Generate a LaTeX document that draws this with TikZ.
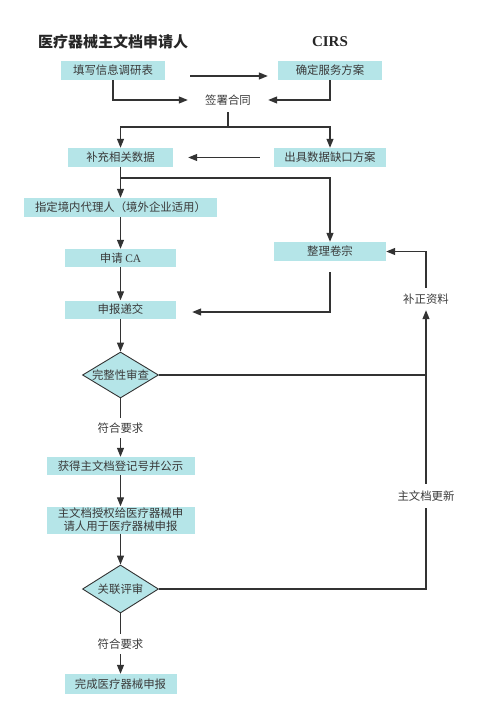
\documentclass[tikz,border=0pt]{standalone}
\usepackage{fontspec}
\setmainfont{Noto Sans CJK SC}
\newfontfamily\serifcjk{Liberation Serif}
\usetikzlibrary{arrows.meta,shapes.geometric}
\definecolor{boxfill}{HTML}{B5E5E8}
\definecolor{ink}{HTML}{333333}
\definecolor{txt}{HTML}{3A3A3A}
\tikzset{
  procbox/.style={fill=boxfill, draw=none, text=txt, font=\fontsize{11.4}{13}\selectfont, inner sep=0pt, align=center},
  decide/.style={diamond, aspect=1.65, fill=boxfill, draw=ink, line width=0.9pt, text=txt, font=\fontsize{11.4}{13}\selectfont, inner sep=0pt, minimum width=76pt, minimum height=46pt},
  plainlab/.style={text=txt, font=\fontsize{11.4}{13}\selectfont, inner sep=0pt},
  link/.style={draw=ink, line width=1.2pt},
  arr/.style={link, -{Triangle[length=9pt,width=7pt]}},
}
\begin{document}
\begin{tikzpicture}[x=1pt,y=-1pt]
\useasboundingbox (0,0) rectangle (500,719);
\fill[white] (0,0) rectangle (500,719);

\node[text=black!85, font=\bfseries\fontsize{15}{17}\selectfont, inner sep=0pt] (title) at (113,42) {医疗器械主文档申请人};
\node[text=black!85, font=\serifcjk\bfseries\fontsize{15}{17}\selectfont, inner sep=0pt] (cirs) at (330,42) {CIRS};

\node[procbox, minimum width=104pt, minimum height=19pt] (b1) at (113,70.5) {填写信息调研表};
\node[procbox, minimum width=104pt, minimum height=19pt] (b2) at (330,70.5) {确定服务方案};
\node[plainlab, minimum width=80pt, minimum height=24pt] (sign) at (228,100) {签署合同};
\node[procbox, minimum width=105pt, minimum height=19pt] (b3) at (120.5,157.5) {补充相关数据};
\node[procbox, minimum width=112pt, minimum height=19pt] (b4) at (330,157.5) {出具数据缺口方案};
\node[procbox, minimum width=193pt, minimum height=19pt] (b5) at (120.5,207.5) {指定境内代理人（境外企业适用）};
\node[procbox, minimum width=111pt, minimum height=18pt] (b6) at (120.5,258) {申请 {\serifcjk CA}};
\node[procbox, minimum width=111pt, minimum height=18pt] (b7) at (120.5,309.5) {申报递交};
\node[procbox, minimum width=112pt, minimum height=19pt] (b8) at (330,251.5) {整理卷宗};
\node[decide] (d1) at (120.5,375) {完整性审查};
\node[plainlab, minimum height=20pt] (l1) at (120.5,428) {符合要求};
\node[procbox, minimum width=148pt, minimum height=18pt] (b9) at (120.5,466) {获得主文档登记号并公示};
\node[procbox, minimum width=148pt, minimum height=27pt] (b10) at (120.5,520) {主文档授权给医疗器械申\\请人用于医疗器械申报};
\node[decide, minimum height=48pt] (d2) at (120.5,589) {关联评审};
\node[plainlab, minimum height=20pt] (l2) at (120.5,644) {符合要求};
\node[procbox, minimum width=112pt, minimum height=20pt] (b11) at (120.5,684) {完成医疗器械申报};
\node[plainlab, minimum height=22pt] (lab1) at (426,299) {补正资料};
\node[plainlab, minimum height=24pt] (lab2) at (426,496) {主文档更新};

\coordinate (j1) at (228,127);
\coordinate (j2) at (120.5,178);

\draw[arr, shorten <=25pt, shorten >=10pt] ([yshift=-5.5pt]b1.east) -- ([yshift=-5.5pt]b2.west);
\draw[arr] (b1.south) |- (sign.west);
\draw[arr] (b2.south) |- (sign.east);
\draw[link] (sign.south) -- (j1);
\draw[arr] (j1) -| (b3.north);
\draw[arr] (j1) -| (b4.north);
\draw[arr, shorten <=14pt, shorten >=15pt] (b4.west) -- (b3.east);
\draw[arr] (b3.south) -- (b5.north);
\draw[arr] (j2) -| (b8.north);
\draw[arr] (b5.south) -- (b6.north);
\draw[arr] (b6.south) -- (b7.north);
\draw[arr, shorten <=11pt, shorten >=16pt] (b8.south) |- ([yshift=-2.5pt]b7.east);
\draw[arr] (b7.south) -- (d1.north);
\draw[link] (d1.south) -- (l1.north);
\draw[arr] (l1.south) -- (b9.north);
\draw[arr] (b9.south) -- (b10.north);
\draw[arr] (b10.south) -- (d2.north);
\draw[link] (d2.south) -- (l2.north);
\draw[arr] (l2.south) -- (b11.north);
\draw[link] (d1.east) -- (d1.east -| lab2.north);
\draw[link] (d2.east) -| (lab2.south);
\draw[arr] (lab2.north) -- (lab1.south);
\draw[arr] (lab1.north) |- (b8.east);
\end{tikzpicture}
\end{document}
